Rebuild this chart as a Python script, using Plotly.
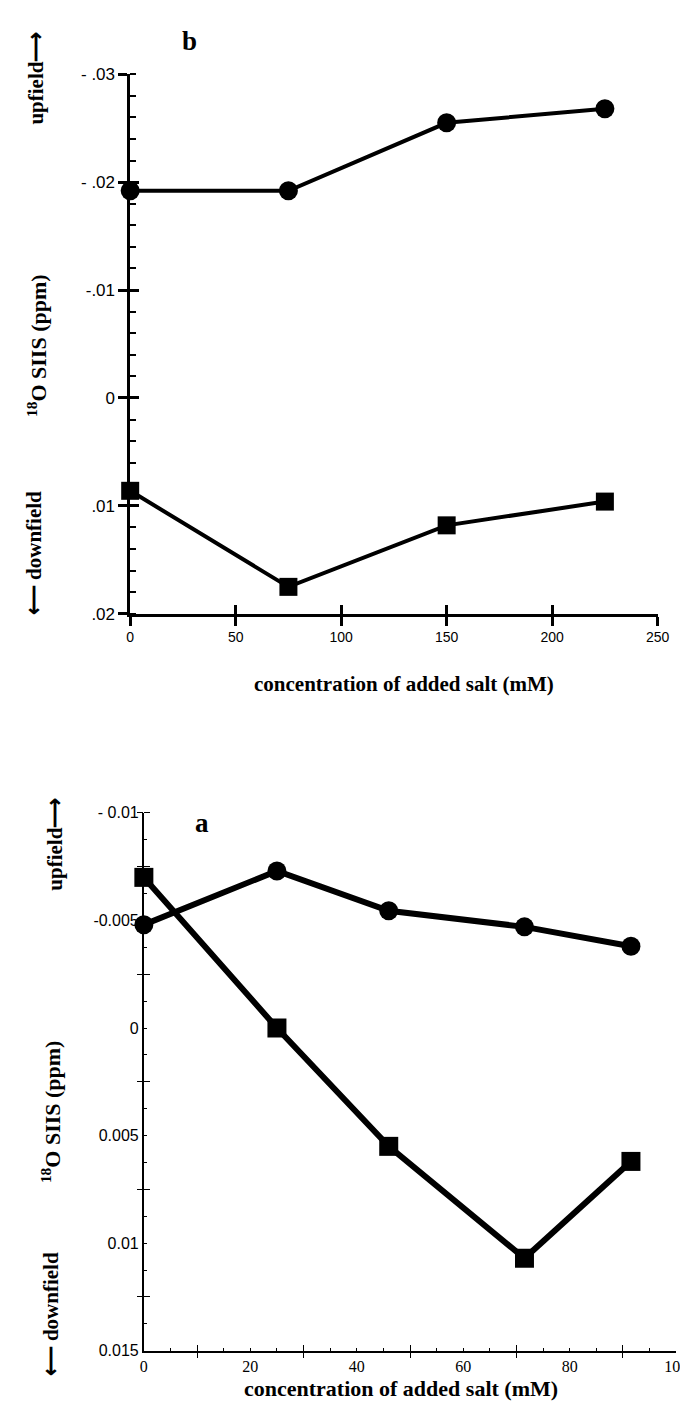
import plotly.graph_objects as go

W, H = 688, 1409

# ---------------- Panel b (top) ----------------
b_salt = [0, 75, 150, 225]
b_circle = [-0.0192, -0.0192, -0.0255, -0.0268]
b_square = [0.0086, 0.0175, 0.0118, 0.0096]
b_xticks = [0, 50, 100, 150, 200, 250]
b_yticks = [-0.03, -0.02, -0.01, 0, 0.01, 0.02]
b_yticktext = ["- .03", "- .02", "-.01", "0", ".01", ".02"]

# ---------------- Panel a (bottom) ----------------
a_salt = [0, 25, 46, 71.5, 91.5]
a_circle = [-0.0048, -0.0073, -0.00545, -0.0047, -0.0038]
a_square = [-0.0070, 0.0, 0.0055, 0.0107, 0.0062]
a_xticks = [0, 20, 40, 60, 80, 100]
a_xcross = [10, 30, 50, 70, 90]
a_yticks = [-0.01, -0.005, 0, 0.005, 0.01, 0.015]
a_yticktext = ["- 0.01", "-0.005", "0", "0.005", "0.01", "0.015"]
a_ycross = [-0.01, -0.0075, -0.0025, 0.0025, 0.0075, 0.0125]


def px(x):
    return x / W


def py(y):
    return 1 - y / H


SERIF = "Liberation Serif"
SANS = "Liberation Sans"

fig = go.Figure()

# top panel traces
fig.add_trace(go.Scatter(x=b_salt, y=b_circle, mode="lines+markers",
                         line=dict(color="black", width=4),
                         marker=dict(symbol="circle", size=19, color="black"),
                         cliponaxis=False, xaxis="x", yaxis="y"))
fig.add_trace(go.Scatter(x=b_salt, y=b_square, mode="lines+markers",
                         line=dict(color="black", width=4),
                         marker=dict(symbol="square", size=18, color="black"),
                         cliponaxis=False, xaxis="x", yaxis="y"))
# bottom panel traces
fig.add_trace(go.Scatter(x=a_salt, y=a_circle, mode="lines+markers",
                         line=dict(color="black", width=6),
                         marker=dict(symbol="circle", size=19, color="black"),
                         cliponaxis=False, xaxis="x2", yaxis="y2"))
fig.add_trace(go.Scatter(x=a_salt, y=a_square, mode="lines+markers",
                         line=dict(color="black", width=6),
                         marker=dict(symbol="square", size=19, color="black"),
                         cliponaxis=False, xaxis="x2", yaxis="y2"))
# helper (empty) traces so the overlay tick axes are drawn
fig.add_trace(go.Scatter(x=[], y=[], xaxis="x3", yaxis="y3", hoverinfo="skip"))
fig.add_trace(go.Scatter(x=[], y=[], xaxis="x4", yaxis="y4", hoverinfo="skip"))

top_x = [px(121), px(661)]
top_y = [py(605), py(58)]
bot_x = [px(135), px(680)]
bot_y = [py(1352), py(806.7)]

common = dict(showgrid=False, zeroline=False, color="black")

fig.update_layout(
    width=W, height=H,
    margin=dict(l=0, r=0, t=0, b=0),
    paper_bgcolor="white", plot_bgcolor="white",
    showlegend=False,
    xaxis=dict(domain=top_x, range=[0, 250], anchor="y", showline=True,
               linewidth=2.5, linecolor="black", ticks="outside", ticklen=9,
               tickwidth=2.5, tickcolor="black", tickvals=b_xticks,
               tickfont=dict(family=SANS, size=14, color="black"), **common),
    yaxis=dict(domain=top_y, range=[0.02, -0.03], anchor="x", showline=True,
               linewidth=2.5, linecolor="black", ticks="outside", ticklen=9,
               tickwidth=2.5, tickcolor="black", tickvals=b_yticks,
               ticktext=b_yticktext,
               tickfont=dict(family=SANS, size=17, color="black"),
               minor=dict(dtick=0.002, tick0=0, ticks="inside", ticklen=6,
                          tickwidth=2, tickcolor="black"), **common),
    xaxis3=dict(overlaying="x", range=[0, 250], anchor="y", side="bottom",
                ticks="inside", ticklen=9, tickwidth=2.5, tickcolor="black",
                tickvals=b_xticks, showticklabels=False, showline=False,
                **common),
    yaxis3=dict(overlaying="y", range=[0.02, -0.03], anchor="x", side="left",
                ticks="inside", ticklen=9, tickwidth=2.5, tickcolor="black",
                tickvals=b_yticks, showticklabels=False, showline=False,
                **common),
    xaxis2=dict(domain=bot_x, range=[0, 100], anchor="y2", showline=True,
                linewidth=1.8, linecolor="black", ticks="inside", ticklen=3,
                tickwidth=1, tickcolor="black", tickvals=a_xticks,
                tickfont=dict(family=SERIF, size=16, color="black"),
                minor=dict(dtick=5, tick0=0, ticks="inside", ticklen=3,
                           tickwidth=1, tickcolor="black"), **common),
    yaxis2=dict(domain=bot_y, range=[0.015, -0.01], anchor="x2", showline=True,
                linewidth=1.8, linecolor="black", ticks="inside", ticklen=3,
                tickwidth=1, tickcolor="black", tickvals=a_yticks,
                ticktext=a_yticktext,
                tickfont=dict(family=SANS, size=16, color="black"),
                minor=dict(dtick=0.00125, tick0=0, ticks="inside", ticklen=3,
                           tickwidth=1, tickcolor="black"), **common),
    xaxis4=dict(overlaying="x2", range=[0, 100], anchor="y2", side="bottom",
                ticks="outside", ticklen=6, tickwidth=1, tickcolor="black",
                tickvals=a_xcross, showticklabels=False, showline=False,
                minor=dict(tickvals=a_xcross, ticks="inside", ticklen=6,
                           tickwidth=1, tickcolor="black"), **common),
    yaxis4=dict(overlaying="y2", range=[0.015, -0.01], anchor="x2", side="left",
                ticks="outside", ticklen=6, tickwidth=1, tickcolor="black",
                tickvals=a_ycross, showticklabels=False, showline=False,
                minor=dict(tickvals=a_ycross, ticks="inside", ticklen=6,
                           tickwidth=1, tickcolor="black"), **common),
)

ann = []


def add_text(text, x, y, size, angle=0):
    ann.append(dict(text=text, x=px(x), y=py(y), xref="paper", yref="paper",
                    showarrow=False, textangle=angle, xanchor="center",
                    yanchor="middle",
                    font=dict(family=SERIF, size=size, color="black")))


# top panel texts
add_text("<b>upfield⟶</b>", 25, 62, 21, -90)
add_text("<b><sup>18</sup>O SIIS (ppm)</b>", 25, 333, 22, -90)
add_text("<b>⟵ downfield</b>", 22, 543, 21, -90)
add_text("<b>b</b>", 182, 24, 27)
add_text("<b>concentration of added salt (mM)</b>", 401, 676, 21)
# bottom panel texts
add_text("<b>upfield⟶</b>", 44, 838, 21, -90)
add_text("<b><sup>18</sup>O SIIS (ppm)</b>", 40, 1110, 22, -90)
add_text("<b>⟵ downfield</b>", 40, 1315, 21, -90)
add_text("<b>a</b>", 195, 817, 27)
add_text("<b>concentration of added salt (mM)</b>", 398, 1390, 22)

fig.update_layout(annotations=ann)

fig.write_html("out.html")
